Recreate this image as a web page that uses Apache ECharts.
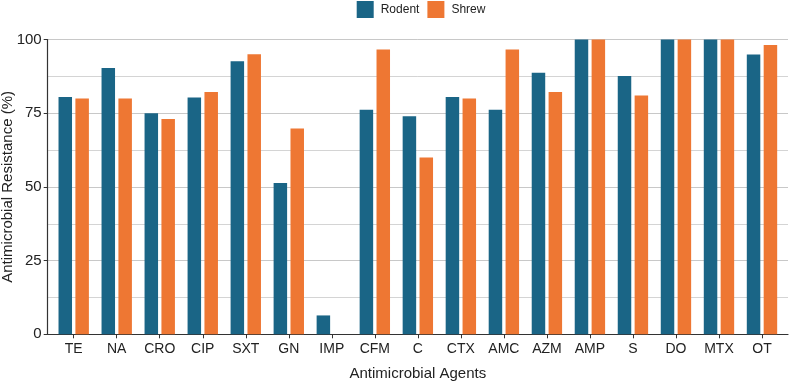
<!DOCTYPE html>
<html>
<head>
<meta charset="utf-8">
<script src="https://cdn.jsdelivr.net/npm/echarts@6/dist/echarts.min.js"></script>
<style>
html, body { margin: 0; padding: 0; background: #fff; }
#chart { width: 789px; height: 382px; }
</style>
</head>
<body>
<div id="chart"></div>
<script>
// 抗菌药物名称
var agents = ['TE', 'NA', 'CRO', 'CIP', 'SXT', 'GN', 'IMP', 'CFM', 'C', 'CTX', 'AMC', 'AZM', 'AMP', 'S', 'DO', 'MTX', 'OT'];
// 耐药率 (%)
var rodent = [80.5, 90.3, 75, 80.3, 92.6, 51.3, 6.4, 76.2, 74, 80.5, 76.2, 88.7, 100, 87.6, 100, 100, 94.9];
var shrew = [80, 80, 73, 82.2, 95, 69.8, 0, 96.6, 60, 80, 96.6, 82.2, 100, 81, 100, 100, 98.1];
var yTicks = [0, 25, 50, 75, 100];

var myChart = echarts.init(document.getElementById('chart'));
// grid 0: 坐标轴线和网格线; grid 1: 类别轴和柱子 (两端留白)
var option = {
	animation: false,
	textStyle: {
		fontFamily: 'Liberation Sans, Arial, sans-serif'
	},
	legend: {
		top: 1,
		left: 356.7,
		padding: 0,
		itemWidth: 17,
		itemHeight: 17,
		itemGap: 8,
		icon: 'rect',
		textStyle: {
			fontSize: 12,
			color: '#222',
			padding: [0, 0, 0, 2]
		},
		data: ['Rodent', 'Shrew']
	},
	grid: [{
		left: 47.7,
		right: 1,
		top: 39.5,
		bottom: 47.7,
		containLabel: false,
		outerBoundsMode: 'none'
	}, {
		left: 52.2,
		right: 5.5,
		top: 39.5,
		bottom: 47.7,
		containLabel: false,
		outerBoundsMode: 'none'
	}],
	xAxis: [{
		gridIndex: 0,
		type: 'value',
		min: 0,
		max: 1,
		axisLine: {
			show: true,
			onZero: false,
			lineStyle: { color: '#333', width: 1.2 }
		},
		axisTick: { show: false },
		axisLabel: { show: false },
		splitLine: { show: false }
	}, {
		gridIndex: 1,
		type: 'category',
		data: agents,
		name: 'Antimicrobial Agents',
		nameLocation: 'middle',
		nameGap: 32,
		nameTextStyle: {
			fontSize: 15,
			color: '#222'
		},
		axisLine: { show: false },
		axisTick: {
			show: true,
			alignWithLabel: true,
			length: 4,
			lineStyle: { color: '#333' }
		},
		axisLabel: {
			fontSize: 14,
			color: '#222',
			margin: 8
		}
	}],
	yAxis: [{
		gridIndex: 0,
		type: 'value',
		min: yTicks[0],
		max: yTicks[yTicks.length - 1],
		interval: 25,
		name: 'Antimicrobial Resistance (%)',
		nameLocation: 'middle',
		nameGap: 32,
		nameMoveOverlap: false,
		nameTextStyle: {
			fontSize: 15,
			color: '#222'
		},
		axisLine: {
			show: true,
			onZero: false,
			lineStyle: { color: '#333', width: 1.2 }
		},
		axisTick: {
			show: true,
			length: 4,
			lineStyle: { color: '#333' }
		},
		axisLabel: {
			fontSize: 15,
			color: '#222',
			margin: 6
		},
		splitLine: {
			show: true,
			lineStyle: { color: '#c8c8c8', width: 1 }
		},
		minorTick: { show: false, splitNumber: 2 },
		minorSplitLine: {
			show: true,
			lineStyle: { color: '#d4d4d4', width: 1 }
		}
	}, {
		gridIndex: 1,
		type: 'value',
		min: yTicks[0],
		max: yTicks[yTicks.length - 1],
		show: false
	}],
	series: [{
		name: 'Rodent',
		type: 'bar',
		xAxisIndex: 1,
		yAxisIndex: 1,
		barWidth: 13.5,
		barGap: '25%',
		itemStyle: { color: '#1a6586' },
		data: rodent
	}, {
		name: 'Shrew',
		type: 'bar',
		xAxisIndex: 1,
		yAxisIndex: 1,
		barWidth: 13.5,
		barGap: '25%',
		itemStyle: { color: '#ee7733' },
		data: shrew
	}]
};
myChart.setOption(option);
</script>
</body>
</html>
